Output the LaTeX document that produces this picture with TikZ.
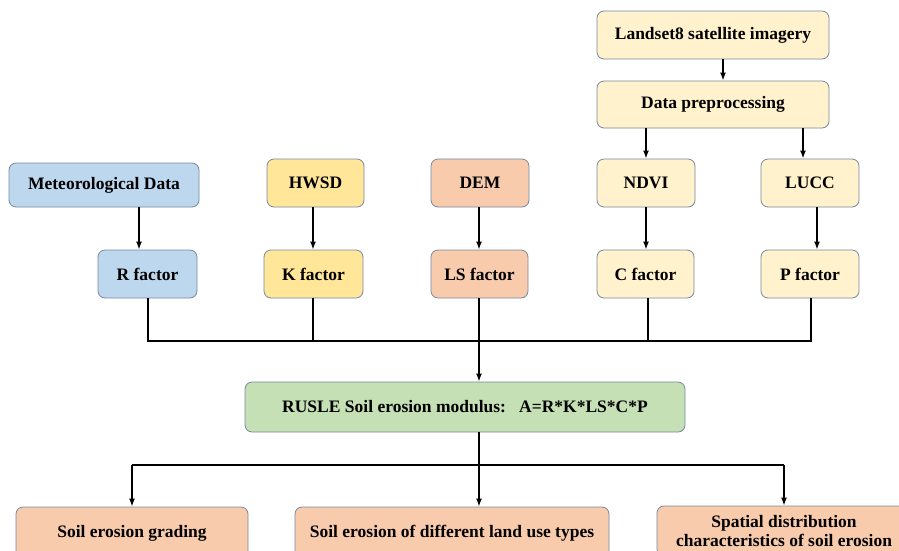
\documentclass[tikz,border=0pt]{standalone}
\usepackage{fontspec}
\setmainfont{Liberation Serif}
\usetikzlibrary{arrows.meta}
\definecolor{bordc}{RGB}{120,136,160}
\definecolor{cblue}{RGB}{189,215,238}
\definecolor{cyel}{RGB}{255,230,153}
\definecolor{csal}{RGB}{248,203,173}
\definecolor{cpale}{RGB}{255,242,204}
\definecolor{cgreen}{RGB}{197,224,180}
\begin{document}
\begin{tikzpicture}[x=1pt,y=-1pt,
  box/.style={draw=bordc, line width=0.8pt, rounded corners=7pt, inner sep=0pt, align=center,
    font=\bfseries\fontsize{17.5}{20}\selectfont},
  conn/.style={line width=1.8pt, draw=black},
  arr/.style={conn, -{Latex[length=8pt,width=6pt]}}]
\path[use as bounding box, clip] (0,0) rectangle (899,550);
\fill[white] (0,0) rectangle (899,550);

% top chain
\node[box, fill=cpale, minimum width=232pt, minimum height=48pt] (land) at (713,35) {Landset8 satellite imagery};
\node[box, fill=cpale, minimum width=232pt, minimum height=47pt] (prep) at (713,104.5) {Data preprocessing};

% source row
\node[box, fill=cblue, minimum width=190pt, minimum height=44pt] (met) at (104,185) {Meteorological Data};
\node[box, fill=cyel, minimum width=97pt, minimum height=48pt] (hwsd) at (315.5,183) {HWSD};
\node[box, fill=csal, minimum width=98pt, minimum height=48pt] (dem) at (480,183) {DEM};
\node[box, fill=cpale, minimum width=98pt, minimum height=48pt] (ndvi) at (646,183) {NDVI};
\node[box, fill=cpale, minimum width=98pt, minimum height=48pt] (lucc) at (810,183) {LUCC};

% factor row
\node[box, fill=cblue, minimum width=99pt, minimum height=48pt] (R) at (147.5,274) {R factor};
\node[box, fill=cyel, minimum width=99pt, minimum height=48pt] (K) at (313.5,274) {K factor};
\node[box, fill=csal, minimum width=97pt, minimum height=48pt] (LS) at (479.5,274) {LS factor};
\node[box, fill=cpale, minimum width=97pt, minimum height=48pt] (C) at (645.5,274) {C factor};
\node[box, fill=cpale, minimum width=98pt, minimum height=48pt] (P) at (810,274) {P factor};

% RUSLE
\node[box, fill=cgreen, minimum width=440pt, minimum height=50pt] (rusle) at (465,407) {RUSLE Soil erosion modulus:\ \ \ A=R*K*LS*C*P};

% outputs
\node[box, fill=csal, minimum width=232pt, minimum height=52pt] (b1) at (132,533) {Soil erosion grading};
\node[box, fill=csal, minimum width=314pt, minimum height=52pt] (b2) at (452,533) {Soil erosion of different land use types};
\node[box, fill=csal, minimum width=254pt, minimum height=50pt, font=\bfseries\fontsize{17.5}{19}\selectfont] (b3) at (784,531) {Spatial distribution\\characteristics of soil erosion};

% columns
\coordinate (a1) at (139,0);
\coordinate (a5) at (817,0);
\coordinate (a6) at (646,0);
\coordinate (a7) at (803,0);
\coordinate (a8) at (723,0);
\coordinate (cR) at (148,0);
\coordinate (cK) at (313,0);
\coordinate (cLS) at (479,0);
\coordinate (cC) at (648,0);
\coordinate (cP) at (811,0);
\coordinate (bus) at (0,341);
\coordinate (bus2) at (0,465);

% arrows top
\draw[arr] (land.south -| a8) -- (prep.north -| a8);
\draw[arr] (prep.south -| a6) -- (ndvi.north -| a6);
\draw[arr] (prep.south -| a7) -- (lucc.north -| a7);

\draw[arr] (met.south -| a1) -- (R.north -| a1);
\draw[arr] (hwsd.south -| cK) -- (K.north -| cK);
\draw[arr] (dem.south -| cLS) -- (LS.north -| cLS);
\draw[arr] (ndvi.south -| a6) -- (C.north -| a6);
\draw[arr] (lucc.south -| a5) -- (P.north -| a5);

% bus to RUSLE
\draw[conn] (R.south -| cR) -- (cR |- bus) -- (cP |- bus) -- (P.south -| cP);
\draw[conn] (K.south -| cK) -- (cK |- bus);
\draw[conn] (C.south -| cC) -- (cC |- bus);
\draw[arr] (LS.south -| cLS) -- (rusle.north -| cLS);

% RUSLE to outputs
\draw[conn] (rusle.south -| cLS) -- (cLS |- bus2);
\draw[conn] (b1.north |- bus2) -- (b3.north |- bus2);
\draw[arr] (b1.north |- bus2) -- (b1.north);
\draw[arr] (cLS |- bus2) -- (b2.north -| cLS);
\draw[arr] (b3.north |- bus2) -- (b3.north);
\end{tikzpicture}
\end{document}
